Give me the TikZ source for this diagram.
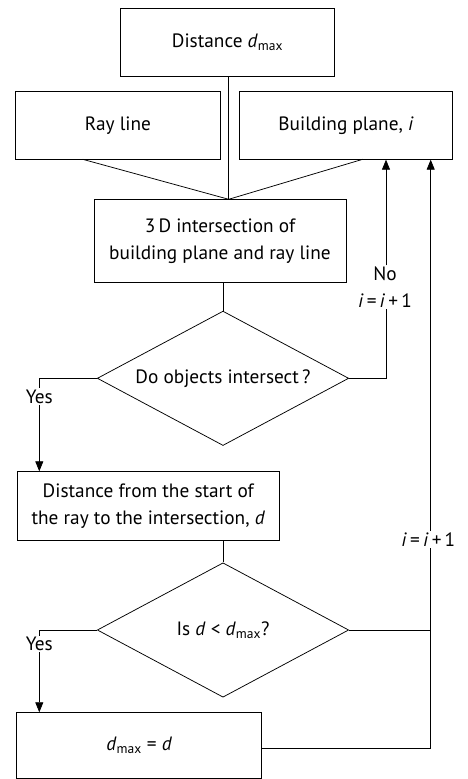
\documentclass[tikz,border=0pt]{standalone}
\usepackage{fontspec}
\setmainfont{PT Sans}
\usetikzlibrary{shapes.geometric,arrows.meta}
\newcommand{\dmx}{\textit{d}\textsubscript{max}}
\newcommand{\inc}{\textit{i}\,=\,\textit{i}\,+\,1}
\tikzset{every picture/.style={line width=0.75pt}}
\tikzset{
  txt/.style={font=\fontsize{19.3}{27}\selectfont},
  procbox/.style={txt, draw, rectangle, inner sep=0.75pt, align=center},
  decbox/.style={txt, draw, diamond, aspect=1.875, inner sep=0pt, minimum width=251.4, minimum height=134.4},
  lbl/.style={txt, inner sep=1pt, align=center},
  arr/.style={-{Triangle[length=10pt,width=8pt]}}
}
\begin{document}
\begin{tikzpicture}[x=1pt,y=1pt,yscale=-1,xscale=1]
\useasboundingbox (0,0) rectangle (468,779);

% Boxes
\node [procbox, minimum width=213.6, minimum height=68.4] (dmax) at (227.5,42.5) {Distance \dmx};
\node [procbox, minimum width=204.3, minimum height=67.6] (ray) at (117.9,125.5) {Ray line};
\node [procbox, minimum width=213.4, minimum height=67.6] (plane) at (346,125.5) {Building plane, \textit{i}};
\node [procbox, minimum width=252, minimum height=83.4] (inter) at (220,241) {3\,D intersection of\\building plane and ray line};
\node [decbox] (q1) at (223,378.3) {Do objects intersect\,?};
\node [procbox, minimum width=262, minimum height=69] (dist) at (148.3,506.2) {Distance from the start of\\the ray to the intersection, \textit{d}};
\node [decbox] (q2) at (223,630) {Is \textit{d} < \dmx?};
\node [procbox, minimum width=245, minimum height=65.3] (upd) at (139.2,745.3) {\dmx\ = \textit{d}};

% Text Node
\node [lbl] (yes1) at (39.3,396.5) {Yes};
\node [lbl] (no) at (385,287) {No\\\inc};
\node [lbl] (yes2) at (39.3,644) {Yes};
\node [lbl] (inc2) at (428.3,539.3) {\inc};

% Join points
\coordinate (join) at (228.7,199.3);
\coordinate (rayfoot) at (82.7,159.3);
\coordinate (planefoot) at (362.7,159.3);
\coordinate (loop1) at (386,378.3);
\coordinate (loop2) at (430.7,748);

% Straight Lines
\draw (dmax.south -| join) -- (join);
\draw (rayfoot) -- (join);
\draw (planefoot) -- (join);
\draw (q1.north |- inter.south) -- (q1.north);
\draw (q2.north |- dist.south) -- (q2.north);

% No branch
\draw (q1.east) -- (loop1) -- (loop1 |- no.south);
\draw [arr] (loop1 |- no.north) -- (loop1 |- plane.south);

% Yes branches
\draw (q1.west) -| (yes1.north);
\draw [arr] (yes1.south) -- (yes1.south |- dist.north);
\draw (q2.west) -| (yes2.north);
\draw [arr] (yes2.south) -- (yes2.south |- upd.north);

% Back to the next plane
\draw (q2.east) -- (q2.east -| loop2);
\draw (upd.east |- loop2) -- (loop2) -- (loop2 |- inc2.south);
\draw [arr] (loop2 |- inc2.north) -- (loop2 |- plane.south);

\end{tikzpicture}
\end{document}
